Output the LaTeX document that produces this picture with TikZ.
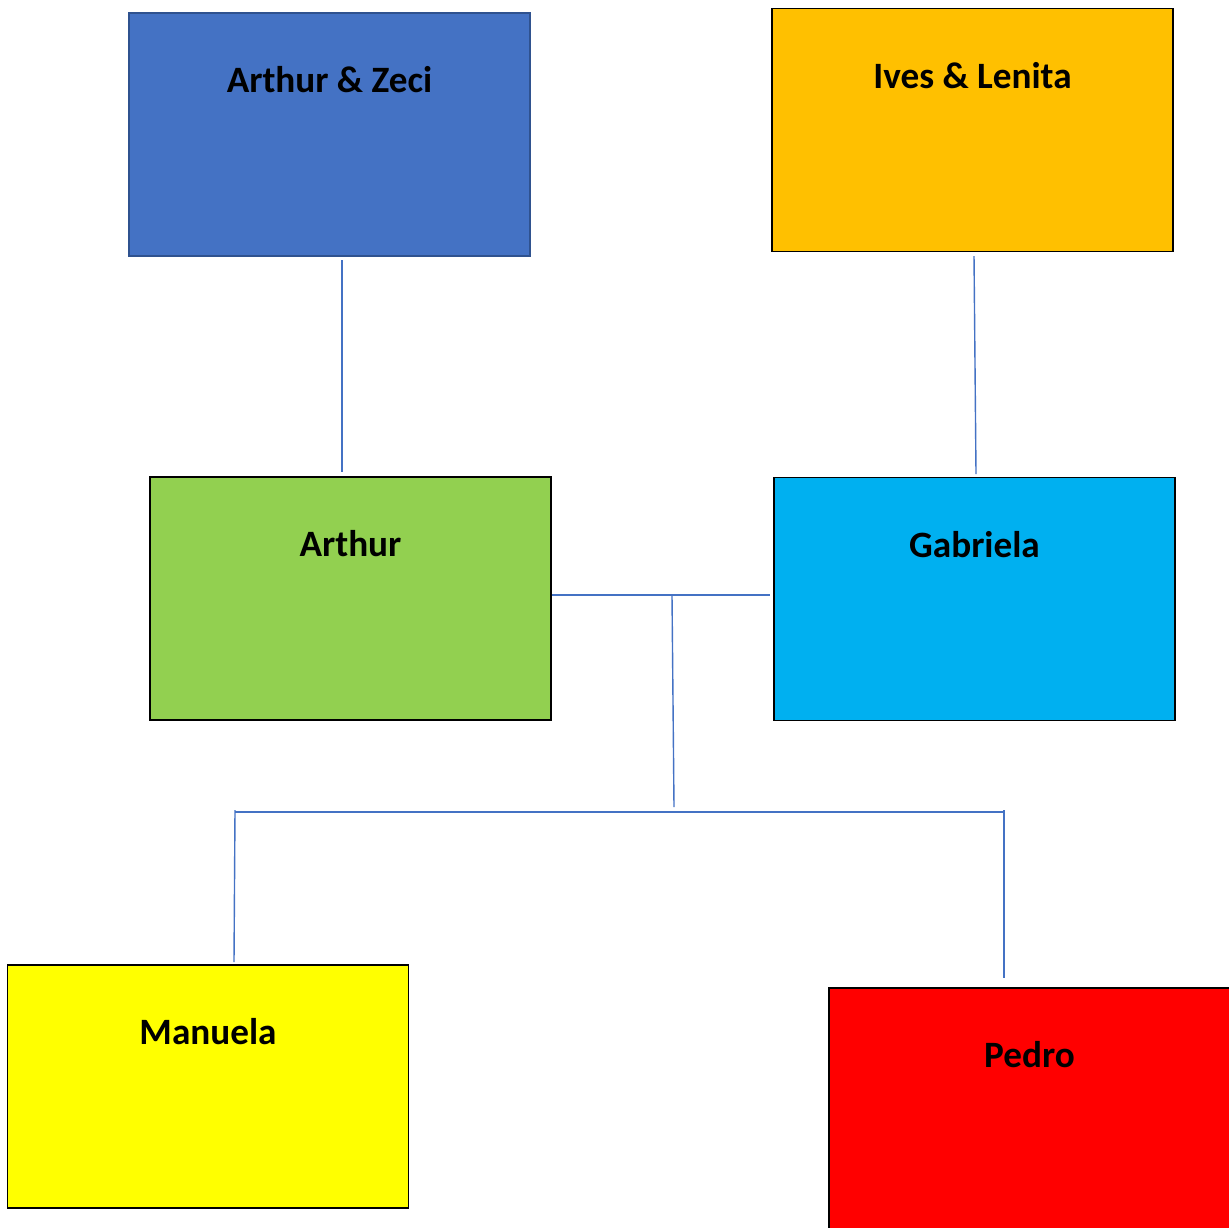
\documentclass[tikz,border=0pt]{standalone}
\usepackage{fontspec}
\setmainfont{Carlito}
\definecolor{azfill}{HTML}{4472C4}
\definecolor{azdraw}{HTML}{2F528F}
\definecolor{ilfill}{HTML}{FFC000}
\definecolor{arfill}{HTML}{92D050}
\definecolor{gafill}{HTML}{00B0F0}
\definecolor{mafill}{HTML}{FFFF00}
\definecolor{pefill}{HTML}{FF0000}
\definecolor{link}{HTML}{4472C4}
\begin{document}
\begin{tikzpicture}[x=0.5pt,y=-0.5pt,
  famobox/.style={draw=black, line width=0.75pt, inner sep=0pt,
    minimum width=200.5pt, minimum height=121.5pt},
  famlabel/.style={anchor=base, font=\bfseries\fontsize{18.6}{21}\selectfont, inner sep=0pt},
  linkline/.style={draw=link, line width=0.7pt}]
\useasboundingbox (0,0) rectangle (1229,1227);
\clip (0,0) rectangle (1229,1227);
% boxes
\node[famobox, fill=azfill, draw=azdraw] (az) at (329.5,134.5) {};
\node[famobox, fill=ilfill] (il) at (972.5,130) {};
\node[famobox, fill=arfill] (ar) at (350.5,598.5) {};
\node[famobox, fill=gafill] (ga) at (974.5,599) {};
\node[famobox, fill=mafill] (ma) at (208,1086.5) {};
\node[famobox, fill=pefill] (pe) at (1029.5,1109.5) {};
% labels
\node[famlabel] (aztxt) at (329.5,92) {Arthur \& Zeci};
\node[famlabel] (iltxt) at (972.5,88) {Ives \& Lenita};
\node[famlabel] (artxt) at (350.5,556) {Arthur};
\node[famlabel] (gatxt) at (974.5,557) {Gabriela};
\node[famlabel] (matxt) at (208,1044) {Manuela};
\node[famlabel] (petxt) at (1029.5,1067) {Pedro};
% connector coordinates
\coordinate (azb) at (342,260);
\coordinate (art) at (342,472);
\coordinate (ilb) at (974,256);
\coordinate (gat) at (976,474);
\coordinate (arr) at (552,595);
\coordinate (gal) at (770,595);
\coordinate (mid) at (672,596);
\coordinate (midb) at (674,807);
\coordinate (hl) at (235,812);
\coordinate (hr) at (1003,812);
\coordinate (mat) at (234,962);
\coordinate (pet) at (1004,978);
% connectors
\draw[linkline] (azb) -- (art);
\draw[linkline] (ilb) -- (gat);
\draw[linkline] (arr) -- (gal);
\draw[linkline] (mid) -- (midb);
\draw[linkline] (hl) -- (hr);
\draw[linkline] (235,810) -- (mat);
\draw[linkline] (1004,810) -- (pet);
\end{tikzpicture}
\end{document}
